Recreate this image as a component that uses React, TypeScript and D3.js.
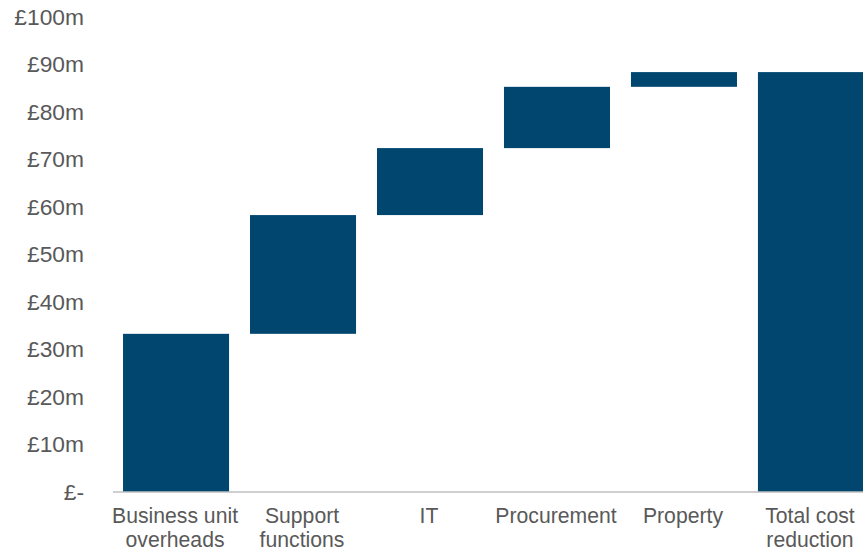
import * as React from 'react';
import * as d3 from 'd3';

const categories = [
  ['Business unit', 'overheads'],
  ['Support', 'functions'],
  ['IT'],
  ['Procurement'],
  ['Property'],
  ['Total cost', 'reduction'],
];

// increments in £m, the last bar is the total
const increments = [33.3, 25.0, 14.1, 12.9, 3.1];
const yTicks = [0, 10, 20, 30, 40, 50, 60, 70, 80, 90, 100];

const BAR_COLOR = '#00466f';
const TEXT_COLOR = '#595959';

export default function App() {
  const width = 863;
  const height = 552;

  const total = d3.sum(increments);
  let running = 0;
  const bars = increments.map((v, i) => {
    const b = { i, y0: running, y1: running + v };
    running += v;
    return b;
  });
  bars.push({ i: increments.length, y0: 0, y1: total });

  const x = d3
    .scaleBand<number>()
    .domain(d3.range(categories.length))
    .range([113, 874])
    .paddingInner(0.165)
    .paddingOuter(0.079);

  const y = d3.scaleLinear().domain([0, 100]).range([492, 17]);

  const fmt = (v: number) => (v === 0 ? '£-' : `£${v}m`);

  return (
    <>
      <style>{'body{margin:0}'}</style>
      <svg width={width} height={height} style={{ display: 'block', fontFamily: 'Liberation Sans, Arial, sans-serif' }}>
        {bars.map((b) => (
          <rect
            key={b.i}
            x={x(b.i)}
            y={y(b.y1)}
            width={x.bandwidth()}
            height={y(b.y0) - y(b.y1)}
            fill={BAR_COLOR}
          />
        ))}
        <line x1={113} x2={width} y1={y(0)} y2={y(0)} stroke="#bfbfbf" strokeWidth={1.5} />
        {yTicks.map((t) => (
          <text key={t} x={84} y={y(t) + 7.8} textAnchor="end" fontSize={22.8} fill={TEXT_COLOR}>
            {fmt(t)}
          </text>
        ))}
        {categories.map((lines, i) => (
          <text
            key={i}
            x={(x(i) ?? 0) + x.bandwidth() / 2 - 1}
            y={523}
            textAnchor="middle"
            fontSize={21.2}
            fill={TEXT_COLOR}
          >
            {lines.map((l, j) => (
              <tspan key={j} x={(x(i) ?? 0) + x.bandwidth() / 2 - 1} dy={j === 0 ? 0 : 24}>
                {l}
              </tspan>
            ))}
          </text>
        ))}
      </svg>
    </>
  );
}
